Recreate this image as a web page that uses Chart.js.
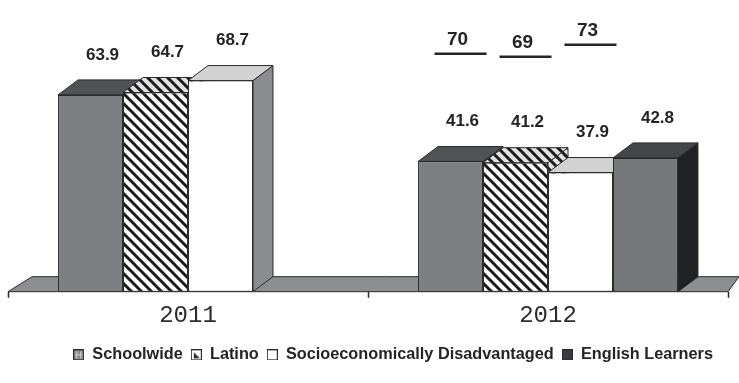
<!DOCTYPE html>
<html>
<head>
<meta charset="utf-8">
<script src="https://cdn.jsdelivr.net/npm/chart.js@4.4.1/dist/chart.umd.min.js"></script>
<style>
  html, body { margin: 0; padding: 0; background: #ffffff; }
  #wrap { width: 739px; height: 383px; }
</style>
</head>
<body>
<div id="wrap"><canvas id="chart" width="739" height="383"></canvas></div>
<script>
// ---- data ----
const categories = ['2011', '2012'];
const seriesNames = ['Schoolwide', 'Latino', 'Socioeconomically Disadvantaged', 'English Learners'];
const schoolwide = [63.9, 41.6];
const latino = [64.7, 41.2];
const socioDisadvantaged = [68.7, 37.9];
const englishLearners = [null, 42.8];
// 2012 goals for Schoolwide, Latino, Socioeconomically Disadvantaged
const targets2012 = [70, 69, 73];

// ---- look ----
const DX = 20, DY = -15;          // depth offset of the 3D boxes
const OUTLINE = '#2a2a2c';
const INK = '#242427';

const canvas = document.getElementById('chart');
const ctx = canvas.getContext('2d');

function stripeTile(bg) {
  const c = document.createElement('canvas');
  c.width = 10; c.height = 10;
  const g = c.getContext('2d');
  g.fillStyle = bg; g.fillRect(0, 0, 10, 10);
  g.strokeStyle = '#1b1b1d'; g.lineWidth = 3.0;
  g.beginPath();
  g.moveTo(-5, -5); g.lineTo(15, 15);
  g.moveTo(-5, 5); g.lineTo(5, 15);
  g.moveTo(5, -5); g.lineTo(15, 5);
  g.stroke();
  return c;
}
const stripeFront = ctx.createPattern(stripeTile('#ffffff'), 'repeat');
const stripeTop = ctx.createPattern(stripeTile('#e2e2e2'), 'repeat');

const frontFill = ['#7d7f83', stripeFront, '#ffffff', '#76787c'];
const topFill   = ['#505256', stripeTop, '#d2d2d2', '#44464a'];
const sideFill  = ['#6c6e72', stripeTop, '#8b8c8f', '#1f2124'];

function icon(kind) {
  const c = document.createElement('canvas');
  c.width = 11; c.height = 11;
  const g = c.getContext('2d');
  if (kind === 0) {
    g.fillStyle = '#8a8b8e'; g.fillRect(0, 0, 11, 11);
    g.strokeStyle = '#d0d0d0'; g.lineWidth = 1;
    g.beginPath();
    g.moveTo(3.5, 2); g.lineTo(3.5, 9); g.moveTo(7.5, 2); g.lineTo(7.5, 9);
    g.moveTo(2, 5.5); g.lineTo(9, 5.5);
    g.stroke();
  } else if (kind === 1) {
    g.fillStyle = '#ffffff'; g.fillRect(0, 0, 11, 11);
    g.fillStyle = '#2a2a2c';
    g.beginPath(); g.moveTo(3, 3); g.lineTo(9, 9); g.lineTo(3, 9); g.closePath(); g.fill();
  } else if (kind === 2) {
    g.fillStyle = '#ffffff'; g.fillRect(0, 0, 11, 11);
  } else {
    g.fillStyle = '#3a3b3e'; g.fillRect(0, 0, 11, 11);
  }
  g.strokeStyle = OUTLINE; g.lineWidth = 1;
  g.strokeRect(0.5, 0.5, 10, 10);
  return c;
}
const legendIcons = [0, 1, 2, 3].map(icon);

function poly(c, pts, fill) {
  c.beginPath();
  c.moveTo(pts[0][0], pts[0][1]);
  for (let k = 1; k < pts.length; k++) c.lineTo(pts[k][0], pts[k][1]);
  c.closePath();
  c.fillStyle = fill; c.fill();
  c.lineWidth = 1; c.strokeStyle = OUTLINE; c.stroke();
}

// floor, box tops and sides are painted before the front faces
const boxes3d = {
  id: 'boxes3d',
  afterLayout(chart) {
    // pull the legend row in a little from the right edge
    if (chart.legend) { chart.legend.right -= 7; chart.legend.width -= 7; }
  },
  beforeDatasetsDraw(chart) {
    const c = chart.ctx, a = chart.chartArea;
    c.save();
    const fb = a.bottom;
    poly(c, [[a.left, fb], [a.right, fb], [a.right + 11, fb + DY], [a.left + DX + 4, fb + DY]], '#8d8e91');
    c.strokeStyle = OUTLINE; c.lineWidth = 1.5;
    c.beginPath();
    [a.left, (a.left + a.right) / 2, a.right].forEach(x => {
      c.moveTo(Math.round(x) + 0.5, fb); c.lineTo(Math.round(x) + 0.5, fb + 6);
    });
    c.stroke();
    categories.forEach((_, j) => {
      chart.data.datasets.forEach((ds, i) => {
        if (ds.data[j] == null) return;
        const el = chart.getDatasetMeta(i).data[j];
        const p = el.getProps(['x', 'y', 'base', 'width'], true);
        const L = p.x - p.width / 2, R = p.x + p.width / 2;
        poly(c, [[R, p.y], [R + DX, p.y + DY], [R + DX, p.base + DY], [R, p.base]], sideFill[i]);
        poly(c, [[L, p.y], [R, p.y], [R + DX, p.y + DY], [L + DX, p.y + DY]], topFill[i]);
      });
    });
    c.restore();
  },
  afterDatasetsDraw(chart) {
    const c = chart.ctx;
    c.save();
    c.fillStyle = INK;
    c.textAlign = 'center';
    c.textBaseline = 'middle';
    c.font = 'bold 17px "Liberation Sans", Arial, sans-serif';
    chart.data.datasets.forEach((ds, i) => {
      ds.data.forEach((v, j) => {
        if (v == null) return;
        const el = chart.getDatasetMeta(i).data[j];
        c.fillText(v.toFixed(1), el.x + 12, el.y - 40);
      });
    });
    // 2012 goal markers
    const ys = chart.scales.y;
    c.font = 'bold 19px "Liberation Sans", Arial, sans-serif';
    c.strokeStyle = INK; c.lineWidth = 2.5;
    targets2012.forEach((t, i) => {
      const el = chart.getDatasetMeta(i).data[1];
      const cx = el.x + DX / 2;
      const yy = ys.getPixelForValue(t) - 23;
      c.beginPath(); c.moveTo(cx - 26, yy); c.lineTo(cx + 26, yy); c.stroke();
      c.fillText(String(t), cx - 3, yy - 14);
    });
    c.restore();
  }
};

const seriesData = [schoolwide, latino, socioDisadvantaged, englishLearners];

new Chart(ctx, {
  type: 'bar',
  data: {
    labels: categories,
    datasets: seriesNames.map((name, i) => ({
      label: name,
      data: seriesData[i],
      backgroundColor: frontFill[i],
      borderColor: OUTLINE,
      borderWidth: 1,
      borderSkipped: false,
      base: -2,
      categoryPercentage: 0.722,
      barPercentage: 1.0
    }))
  },
  options: {
    responsive: false,
    animation: false,
    events: [],
    layout: { padding: { left: 8, right: 11, top: 8, bottom: 10 } },
    scales: {
      x: {
        grid: { display: false, drawTicks: false },
        border: { display: false },
        ticks: {
          color: '#2c2c2f',
          padding: 10,
          font: { family: '"Liberation Mono", "DejaVu Sans Mono", monospace', size: 24 }
        },
        afterFit: (s) => { s.height = 47; }
      },
      y: { display: false, min: -2, max: 93 }
    },
    plugins: {
      tooltip: { enabled: false },
      legend: {
        position: 'bottom',
        align: 'end',
        labels: {
          usePointStyle: true,
          boxWidth: 11,
          padding: 8,
          color: INK,
          font: { family: '"Liberation Sans", Arial, sans-serif', size: 16.3, weight: 'bold' },
          generateLabels: (chart) => chart.data.datasets.map((ds, i) => ({
            text: ds.label,
            pointStyle: legendIcons[i],
            fillStyle: 'rgba(0,0,0,0)',
            strokeStyle: 'rgba(0,0,0,0)',
            lineWidth: 0,
            hidden: false,
            datasetIndex: i,
            fontColor: INK
          }))
        }
      }
    }
  },
  plugins: [boxes3d]
});
</script>
</body>
</html>
